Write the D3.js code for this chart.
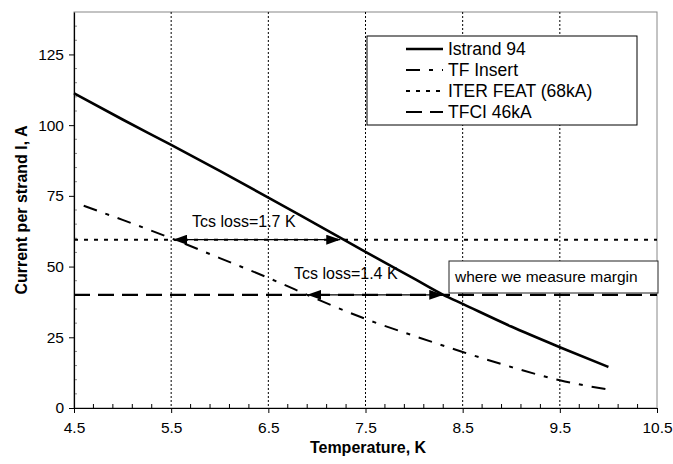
<!DOCTYPE html>
<html><head><meta charset="utf-8">
<script src="https://cdn.jsdelivr.net/npm/d3@7"></script>
<style>
body{margin:0;background:#fff;}
text{font-family:Arial,"Liberation Sans",sans-serif;}
</style></head><body>
<svg id="c" width="673" height="464"></svg>
<script>
const xTicks = [4.5, 5.5, 6.5, 7.5, 8.5, 9.5, 10.5];
const yTicks = [0, 25, 50, 75, 100, 125];
const istrandT = [4.5, 5, 5.5, 6, 6.5, 7, 7.5, 8, 8.3, 8.5, 9, 9.5, 10];
const istrandI = [111.3, 102, 93, 83.8, 74.4, 64.8, 55.2, 45.7, 40, 36.8, 28.8, 21.5, 14.5];
const tfT = [4.6, 5, 5.5, 6, 6.5, 6.9, 7, 7.5, 8, 8.5, 9, 9.5, 10];
const tfI = [71.5, 66.5, 60, 53, 46, 40, 38.5, 31.5, 25.5, 19.8, 14.5, 9.8, 6.5];
const iterFeat = 59.5;
const tfci = 40;
const arrowStartT = [5.52, 6.9];
const arrowEndT = [7.24, 8.3];
const arrowI = [59.5, 40];
const arrowLabels = ["Tcs loss=1.7 K", "Tcs loss=1.4 K"];
const legendNames = ["Istrand 94", "TF Insert", "ITER FEAT (68kA)", "TFCI 46kA"];

const svg = d3.select("#c");
const L = 74, R = 657, T = 12, B = 408;
const x = d3.scaleLinear().domain([4.5, 10.5]).range([L, R]);
const y = d3.scaleLinear().domain([0, 140]).range([B, T]);

// plot border
svg.append("rect").attr("x", L).attr("y", T).attr("width", R - L).attr("height", B - T)
  .attr("fill", "none").attr("stroke", "#888").attr("stroke-width", 1);

// vertical grid
svg.append("g").selectAll("line").data(xTicks.slice(1, -1)).join("line")
  .attr("x1", d => x(d)).attr("x2", d => x(d)).attr("y1", T).attr("y2", B)
  .attr("stroke", "#000").attr("stroke-width", 1).attr("stroke-dasharray", "2,2");

// minor x ticks
const minorX = d3.range(4.7, 10.5, 0.2).filter(v => Math.abs((v - 4.5) % 1) > 0.05 && Math.abs((v - 4.5) % 1 - 1) > 0.05);
svg.append("g").selectAll("line").data(minorX).join("line")
  .attr("x1", d => x(d)).attr("x2", d => x(d)).attr("y1", B).attr("y2", B - 4)
  .attr("stroke", "#000").attr("stroke-width", 1);
// minor y ticks
svg.append("g").selectAll("line").data(d3.range(5, 140, 5).filter(v => v % 25 !== 0)).join("line")
  .attr("x1", L).attr("x2", L + 3).attr("y1", d => y(d)).attr("y2", d => y(d))
  .attr("stroke", "#888").attr("stroke-width", 1);

// axes
const xAxis = d3.axisBottom(x).tickValues(xTicks).tickFormat(d3.format(".1f")).tickSizeInner(5).tickSizeOuter(0).tickPadding(9);
const gx = svg.append("g").attr("transform", `translate(0,${B})`).call(xAxis);
const yAxis = d3.axisLeft(y).tickValues(yTicks).tickSizeInner(5).tickSizeOuter(0).tickPadding(5);
const gy = svg.append("g").attr("transform", `translate(${L},0)`).call(yAxis);
[gx, gy].forEach(g => {
  g.selectAll("text").attr("font-size", 15.5).attr("fill", "#000").style("font-family", "Arial,'Liberation Sans',sans-serif");
  g.select(".domain").attr("stroke", "#000").attr("stroke-width", 1.2);
  g.selectAll(".tick line").attr("stroke", "#000");
});

svg.append("text").attr("x", 368).attr("y", 453).attr("text-anchor", "middle")
  .attr("font-size", 16).attr("font-weight", "bold").text("Temperature, K");
svg.append("text").attr("transform", `translate(27,${(T + B) / 2}) rotate(-90)`).attr("text-anchor", "middle")
  .attr("font-size", 16).attr("font-weight", "bold").text("Current per strand I, A");

const line = d3.line().curve(d3.curveMonotoneX).x(d => x(d[0])).y(d => y(d[1]));
const styles = [
  {w: 2.6, dash: null},
  {w: 2, dash: "14,9,4,9"},
  {w: 2, dash: "4,6"},
  {w: 2.2, dash: "16,8"}
];
const series = [
  istrandT.map((t, i) => [t, istrandI[i]]),
  tfT.map((t, i) => [t, tfI[i]]),
  [[4.5, iterFeat], [10.5, iterFeat]],
  [[4.5, tfci], [10.5, tfci]]
];
[2, 3].forEach(k => {
  svg.append("path").datum(series[k]).attr("d", line).attr("fill", "none")
    .attr("stroke", "#000").attr("stroke-width", styles[k].w).attr("stroke-dasharray", styles[k].dash);
});

// arrows
const defs = svg.append("defs");
defs.append("marker").attr("id", "ah").attr("viewBox", "0 0 14 10").attr("refX", 14).attr("refY", 5)
  .attr("markerWidth", 14).attr("markerHeight", 10).attr("markerUnits", "userSpaceOnUse")
  .attr("orient", "auto-start-reverse")
  .append("path").attr("d", "M0,0 L14,5 L0,10 Z").attr("fill", "#000");
arrowI.forEach((v, i) => {
  svg.append("line").attr("x1", x(arrowStartT[i])).attr("x2", x(arrowEndT[i]))
    .attr("y1", y(v)).attr("y2", y(v)).attr("stroke", "#000").attr("stroke-width", 1.3)
    .attr("marker-start", "url(#ah)").attr("marker-end", "url(#ah)");
});

[0, 1].forEach(k => {
  svg.append("path").datum(series[k]).attr("d", line).attr("fill", "none")
    .attr("stroke", "#000").attr("stroke-width", styles[k].w).attr("stroke-dasharray", styles[k].dash);
});

// arrow labels
svg.append("text").attr("x", 192).attr("y", 227).attr("font-size", 16).text(arrowLabels[0]);
svg.append("text").attr("x", 294).attr("y", 279).attr("font-size", 16).text(arrowLabels[1]);

// margin box
svg.append("rect").attr("x", 449).attr("y", 261).attr("width", 209).attr("height", 32)
  .attr("fill", "#fff").attr("stroke", "#222").attr("stroke-width", 1);
svg.append("text").attr("x", 455).attr("y", 282).attr("font-size", 15.5).text("where we measure margin");

// legend
const lg = svg.append("g");
lg.append("rect").attr("x", 367).attr("y", 36).attr("width", 270).attr("height", 89)
  .attr("fill", "#fff").attr("stroke", "#000").attr("stroke-width", 1);
const rowY = [49, 70, 91, 112];
legendNames.forEach((n, i) => {
  lg.append("line").attr("x1", 406).attr("x2", 443).attr("y1", rowY[i]).attr("y2", rowY[i])
    .attr("stroke", "#000").attr("stroke-width", styles[i].w).attr("stroke-dasharray", styles[i].dash);
  lg.append("text").attr("x", 448).attr("y", rowY[i] + 6).attr("font-size", 17.5).text(n);
});
</script>
</body></html>
